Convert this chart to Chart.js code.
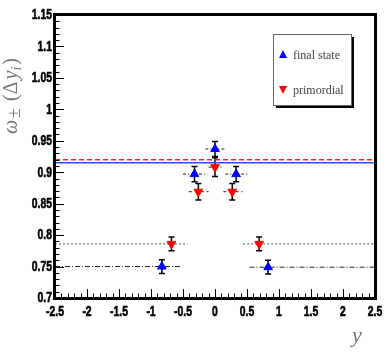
<!DOCTYPE html>
<html>
<head>
<meta charset="utf-8">
<script src="https://cdn.jsdelivr.net/npm/chart.js@4"></script>
<style>
  html, body { margin: 0; padding: 0; background: #fff; }
  #wrap { width: 392px; height: 354px; position: relative; }
</style>
</head>
<body>
<div id="wrap"><canvas id="chart" width="392" height="354"></canvas></div>
<script>
// data
const finalX = [-0.83, -0.32, 0.0, 0.33, 0.83];
const finalY = [0.750, 0.897, 0.937, 0.897, 0.749];
const finalErr = [0.011, 0.012, 0.012, 0.012, 0.011];

const primX = [-0.68, -0.26, 0.0, 0.27, 0.69];
const primY = [0.786, 0.869, 0.908, 0.869, 0.786];
const primErr = [0.011, 0.013, 0.015, 0.013, 0.011];

// horizontal bin segments [xFrom, xTo]
const finalBins = [[-2.5, -0.54], [-0.5, -0.12], [-0.15, 0.16], [0.16, 0.52], [0.54, 2.5]];
const primBins = [[-2.5, -0.43], [-0.41, -0.1], [-0.1, 0.1], [0.13, 0.43], [0.44, 2.5]];

const finalMean = 0.915;
const primMean = 0.92;

const xRange = [-2.5, 2.5];
const yRange = [0.7, 1.15];

const fmt = (v) => String(parseFloat(Number(v).toFixed(2)));

function segDatasets(bins, ys, outerStyle, innerStyle) {
  return bins.map((b, i) => {
    const outer = i === 0 || i === bins.length - 1;
    const st = outer ? outerStyle : innerStyle;
    return {
      type: "line",
      data: [{ x: b[0], y: ys[i] }, { x: b[1], y: ys[i] }],
      borderColor: st.color,
      borderWidth: 1,
      borderDash: st.dash,
      pointRadius: 0,
      fill: false,
      order: 5,
    };
  });
}

const datasets = [
  ...segDatasets(finalBins, finalY, { color: "#222", dash: [5, 2, 1, 2] }, { color: "#222", dash: [3, 2, 1, 2] }),
  ...segDatasets(primBins, primY, { color: "#555", dash: [2, 2] }, { color: "#222", dash: [3, 3] }),
  {
    type: "line",
    data: [{ x: xRange[0], y: finalMean }, { x: xRange[1], y: finalMean }],
    borderColor: "#2a48ff", borderWidth: 1.5, pointRadius: 0, order: 4,
  },
  {
    type: "line",
    data: [{ x: xRange[0], y: primMean }, { x: xRange[1], y: primMean }],
    borderColor: "#ff2020", borderWidth: 1.5, borderDash: [5, 3], pointRadius: 0, order: 4,
  },
  {
    type: "scatter",
    label: "final state",
    data: finalX.map((x, i) => ({ x, y: finalY[i], err: finalErr[i] })),
    pointStyle: "triangle", pointRadius: 5, pointRotation: 0,
    backgroundColor: "#0000ff", borderColor: "#0000ff", borderWidth: 1, order: 1,
  },
  {
    type: "scatter",
    label: "primordial",
    data: primX.map((x, i) => ({ x, y: primY[i], err: primErr[i] })),
    pointStyle: "triangle", pointRadius: 5, pointRotation: 180,
    backgroundColor: "#ff0000", borderColor: "#ff0000", borderWidth: 1, order: 1,
  },
];

// narrow text, the picture uses a condensed bold sans
function narrowText(ctx, text, x, y, align, sx) {
  ctx.save();
  ctx.translate(x, y);
  ctx.scale(sx, 1);
  ctx.textAlign = align;
  ctx.fillText(text, 0, 0);
  ctx.strokeText(text, 0, 0);
  ctx.restore();
}

const frame = {
  id: "frame",
  beforeDatasetsDraw(chart) {
    // error bars under markers
    const ctx = chart.ctx, xs = chart.scales.x, ys = chart.scales.y;
    ctx.save();
    ctx.strokeStyle = "#000";
    ctx.lineWidth = 1.5;
    chart.data.datasets.forEach((ds) => {
      if (ds.type !== "scatter") return;
      ds.data.forEach((p) => {
        const px = xs.getPixelForValue(p.x);
        const y1 = ys.getPixelForValue(p.y + p.err);
        const y2 = ys.getPixelForValue(p.y - p.err);
        ctx.beginPath();
        ctx.moveTo(px, y1); ctx.lineTo(px, y2);
        ctx.moveTo(px - 3, y1); ctx.lineTo(px + 3, y1);
        ctx.moveTo(px - 3, y2); ctx.lineTo(px + 3, y2);
        ctx.stroke();
      });
    });
    ctx.restore();
  },
  afterDraw(chart) {
    const ctx = chart.ctx, a = chart.chartArea, xs = chart.scales.x, ys = chart.scales.y;
    ctx.save();
    // minor / major ticks inside the frame
    ctx.strokeStyle = "#000";
    ctx.lineWidth = 1;
    for (let i = 0; i <= 50; i++) {
      const v = xRange[0] + i * 0.1;
      const px = Math.round(xs.getPixelForValue(v)) + 0.5;
      const len = i % 5 === 0 ? 9 : 4.5;
      ctx.beginPath();
      ctx.moveTo(px, a.bottom); ctx.lineTo(px, a.bottom - len);
      ctx.stroke();
    }
    for (let i = 0; i <= 45; i++) {
      const v = yRange[0] + i * 0.01;
      const py = Math.round(ys.getPixelForValue(v)) + 0.5;
      const len = i % 5 === 0 ? 9 : 4.5;
      ctx.beginPath();
      ctx.moveTo(a.left, py); ctx.lineTo(a.left + len, py);
      ctx.stroke();
    }
    // frame
    ctx.lineWidth = 3;
    ctx.strokeRect(a.left - 0.5, a.top - 0.5, a.right - a.left + 1, a.bottom - a.top + 1);

    // tick labels from the scales' own ticks
    ctx.fillStyle = "#000";
    ctx.strokeStyle = "#000";
    ctx.lineWidth = 0.6;
    ctx.font = "bold 14px 'Liberation Sans', Arial, sans-serif";
    ctx.textBaseline = "middle";
    ys.ticks.forEach((t) => {
      narrowText(ctx, fmt(t.value), a.left - 3, ys.getPixelForValue(t.value) + 0.5, "right", 0.74);
    });
    xs.ticks.forEach((t) => {
      narrowText(ctx, fmt(t.value), xs.getPixelForValue(t.value), a.bottom + 14, "center", 0.74);
    });

    // legend box
    const bx = 273, by = 34, bw = 78, bh = 71;
    ctx.fillStyle = "#000";
    ctx.fillRect(bx + 3, by + 3, bw, bh);
    ctx.fillStyle = "#fff";
    ctx.fillRect(bx, by, bw, bh);
    ctx.lineWidth = 1;
    ctx.strokeStyle = "#666";
    ctx.strokeRect(bx + 0.5, by + 0.5, bw, bh);

    ctx.fillStyle = "#0000ff";
    ctx.beginPath();
    ctx.moveTo(283, 50); ctx.lineTo(287, 58); ctx.lineTo(279, 58); ctx.closePath(); ctx.fill();
    ctx.fillStyle = "#ff0000";
    ctx.beginPath();
    ctx.moveTo(279, 86); ctx.lineTo(287, 86); ctx.lineTo(283, 94); ctx.closePath(); ctx.fill();

    ctx.fillStyle = "#444";
    ctx.font = "12px 'Liberation Serif', 'DejaVu Serif', serif";
    ctx.textBaseline = "alphabetic";
    ctx.textAlign = "left";
    ctx.fillText("final state", 293, 59);
    ctx.fillText("primordial", 293, 94);

    // axis titles
    ctx.fillStyle = "#777";
    ctx.font = "italic 22px 'Liberation Serif', 'DejaVu Serif', serif";
    ctx.fillText("y", 352, 342);

    ctx.translate(17, 134);
    ctx.rotate(-Math.PI / 2);
    ctx.font = "italic 20px 'Liberation Serif', 'DejaVu Serif', serif";
    let cx = 0;
    ctx.fillText("ω", cx, 0); cx += ctx.measureText("ω").width + 2;
    ctx.font = "18px 'Liberation Serif', 'DejaVu Serif', serif";
    ctx.fillText("±", cx, 3); cx += ctx.measureText("±").width + 7;
    ctx.font = "20px 'Liberation Serif', 'DejaVu Serif', serif";
    ctx.fillText("(Δ", cx, 0); cx += ctx.measureText("(Δ").width + 2;
    ctx.font = "italic 20px 'Liberation Serif', 'DejaVu Serif', serif";
    ctx.fillText("y", cx, 0); cx += ctx.measureText("y").width;
    ctx.font = "italic 14px 'Liberation Serif', 'DejaVu Serif', serif";
    ctx.fillText("i", cx, 4); cx += ctx.measureText("i").width + 2;
    ctx.font = "20px 'Liberation Serif', 'DejaVu Serif', serif";
    ctx.fillText(")", cx, 0);
    ctx.restore();
  },
};

new Chart(document.getElementById("chart"), {
  type: "scatter",
  data: { datasets },
  options: {
    responsive: false,
    animation: false,
    layout: { padding: { top: 15, right: 17, left: 0, bottom: 0 } },
    plugins: { legend: { display: false }, tooltip: { enabled: false } },
    scales: {
      x: {
        type: "linear",
        min: xRange[0], max: xRange[1],
        grid: { display: false },
        border: { display: false },
        afterFit(s) { s.height = 56; },
        ticks: { stepSize: 0.5, display: false, autoSkip: false },
      },
      y: {
        type: "linear",
        min: yRange[0], max: yRange[1],
        grid: { display: false },
        border: { display: false },
        afterFit(s) { s.width = 55; },
        ticks: { stepSize: 0.05, display: false, autoSkip: false },
      },
    },
  },
  plugins: [frame],
});
</script>
</body>
</html>
